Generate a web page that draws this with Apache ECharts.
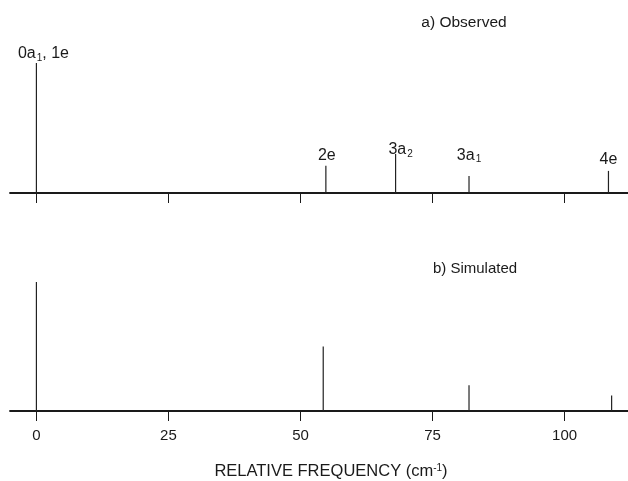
<!DOCTYPE html>
<html>
<head>
<meta charset="utf-8">
<script src="https://cdn.jsdelivr.net/npm/echarts@6/dist/echarts.min.js"></script>
<style>
  html, body { margin: 0; padding: 0; background: #fff; }
  #chart { width: 628px; height: 481px; }
</style>
</head>
<body>
<div id="chart"></div>
<script>
// 峰位 (cm-1) 与相对强度
const observedFreq = [0, 54.8, 68.0, 81.9, 108.3]
const observedInt = [100, 21, 30, 13, 17]
const observedLabels = ['{n|0a}{s|1}{n|, 1e}', '{n|2e}', '{n|3a}{s|2}', '{n|3a}{s|1}', '{n|4e}']
const simulatedFreq = [0, 54.3, 81.9, 108.9]
const simulatedInt = [100, 50, 20, 12]
const tickValues = [0, 25, 50, 75, 100]

const font = 'Liberation Sans, Arial, sans-serif'
const ink = '#1a1a1a'

// 标签微调（原图中标签高度不一）
const labelOffsets = [[7, 4], [1, 2], [5, 9], [0, -8], [0, 1]]

const labelRich = {
  n: { fontFamily: font, fontSize: 16, color: ink },
  s: { fontFamily: font, fontSize: 10, color: ink, padding: [8, 0, 0, 1] },
}

function xAxisFor(gridIndex, showLabels) {
  return {
    type: 'value',
    gridIndex,
    min: -5,
    max: 112,
    axisLine: { onZero: true, lineStyle: { color: ink, width: 1.8 } },
    axisTick: { show: true, customValues: tickValues, length: 10, lineStyle: { color: ink, width: 1 } },
    axisLabel: {
      show: showLabels,
      customValues: tickValues,
      fontFamily: font,
      fontSize: 15,
      color: ink,
      margin: 17,
    },
    splitLine: { show: false },
  }
}

function peaks(freq, ints, labels) {
  return freq.map((f, i) => {
    const item = { value: [f, ints[i]] }
    if (labels) {
      item.label = {
        show: true,
        position: 'top',
        distance: 4,
        formatter: labels[i],
        rich: labelRich,
        offset: labelOffsets[i],
      }
    }
    return item
  })
}

const chart = echarts.init(document.getElementById('chart'))
chart.setOption({
  animation: false,
  backgroundColor: '#fff',
  title: [
    { text: 'a) Observed', left: 459, top: 10, textAlign: 'center',
      textStyle: { fontFamily: font, fontSize: 15.5, fontWeight: 'normal', color: ink } },
    { text: 'b) Simulated', left: 470, top: 256, textAlign: 'center',
      textStyle: { fontFamily: font, fontSize: 15, fontWeight: 'normal', color: ink } },
  ],
  grid: [
    { left: 10, right: 0, top: 63, height: 130 },
    { left: 10, right: 0, top: 282, height: 130 },
  ],
  xAxis: [
    xAxisFor(0, false),
    Object.assign(xAxisFor(1, true), {
      name: '{t|RELATIVE FREQUENCY (cm}{p|-1}{t|)}',
      nameLocation: 'middle',
      nameGap: 52,
      nameTextStyle: {
        padding: [0, 0, 0, 24],
        rich: {
          t: { fontFamily: font, fontSize: 16.5, color: ink },
          p: { fontFamily: font, fontSize: 10, color: ink, padding: [0, 0, 7, 0] },
        },
      },
    }),
  ],
  yAxis: [
    { type: 'value', gridIndex: 0, min: 0, max: 100, show: false },
    { type: 'value', gridIndex: 1, min: 0, max: 100, show: false },
  ],
  series: [
    {
      name: 'observed',
      type: 'bar',
      xAxisIndex: 0,
      yAxisIndex: 0,
      barWidth: 1.2,
      itemStyle: { color: '#222' },
      data: peaks(observedFreq, observedInt, observedLabels),
    },
    {
      name: 'simulated',
      type: 'bar',
      xAxisIndex: 1,
      yAxisIndex: 1,
      barWidth: 1.2,
      itemStyle: { color: '#222' },
      data: peaks(simulatedFreq, simulatedInt, null),
    },
  ],
})
</script>
</body>
</html>
